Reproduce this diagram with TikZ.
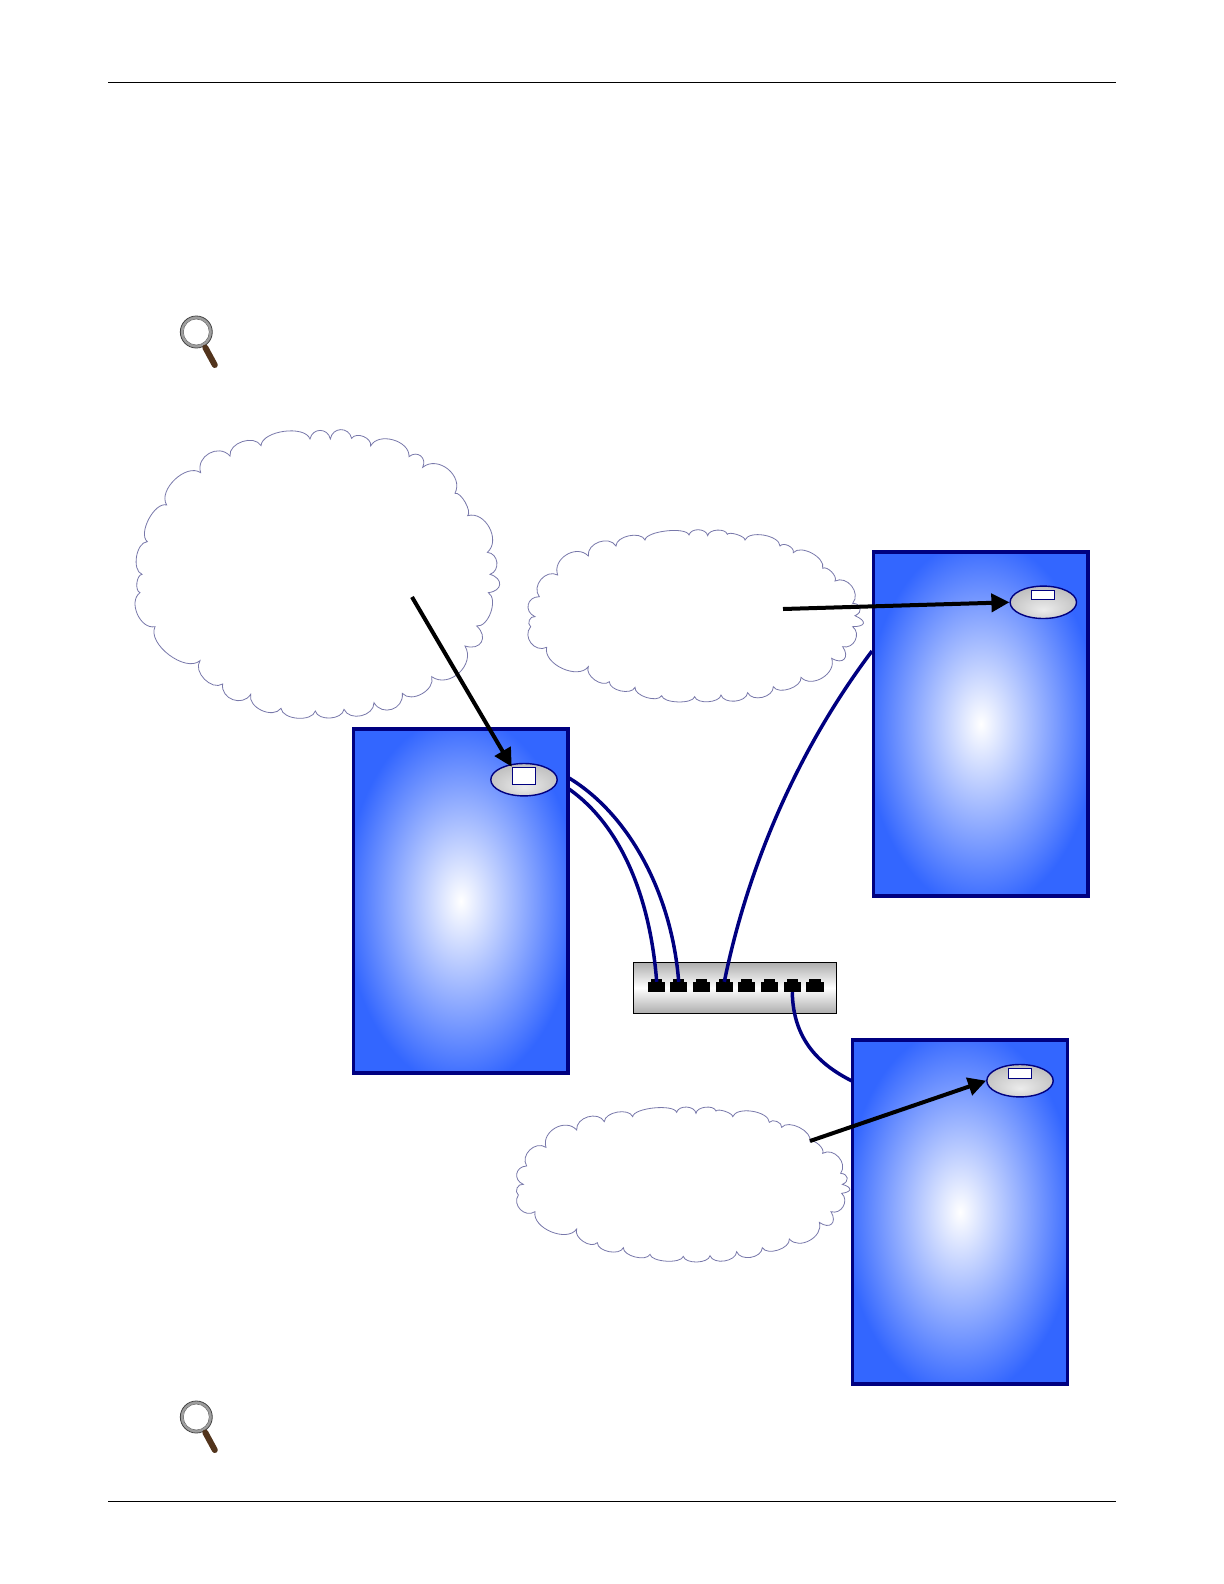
\documentclass[tikz,border=0pt]{standalone}
\usepackage{xcolor}
\usepackage{tikz}
\usetikzlibrary{shapes.geometric, arrows.meta, positioning}
\definecolor{boxnavy}{RGB}{0,0,128}
\definecolor{boxblue}{RGB}{51,102,255}
\definecolor{cloudedge}{RGB}{120,120,170}
\definecolor{nicedge}{RGB}{180,180,180}
\definecolor{niccore}{RGB}{236,236,236}
\definecolor{lenshandle}{RGB}{82,52,28}
\pgfdeclareradialshading{blueglow}{\pgfpoint{0bp}{0bp}}{color(0bp)=(white); color(27bp)=(boxblue); color(50bp)=(boxblue)}
\pgfdeclareradialshading{nicglow}{\pgfpoint{0bp}{-12bp}}{color(0bp)=(niccore); color(36bp)=(nicedge); color(50bp)=(nicedge)}
\tikzset{
  serverbox/.style={rectangle, draw=boxnavy, line width=1.8bp, shading=blueglow, minimum width=107.4bp, minimum height=171.8bp, inner sep=0pt},
  nicoval/.style={ellipse, draw=boxnavy, line width=0.7bp, shading=nicglow, minimum width=33.2bp, minimum height=16.2bp, inner sep=0pt},
  nicslot/.style={rectangle, draw=boxnavy, line width=0.6bp, fill=white, minimum width=11.7bp, inner sep=0pt},
  switchbox/.style={rectangle, draw=black, line width=0.6bp, top color=black!32, bottom color=black!32, middle color=white, minimum width=101.7bp, minimum height=25.5bp, inner sep=0pt},
  portbody/.style={rectangle, fill=black, minimum width=8.6bp, minimum height=5.2bp, inner sep=0pt, outer sep=0pt},
  porttab/.style={rectangle, fill=black, minimum width=5.6bp, minimum height=1.4bp, inner sep=0pt, outer sep=0pt},
  link/.style={draw=boxnavy, line width=1.75bp},
  pointer/.style={-{Triangle[length=9bp,width=9bp]}, line width=2bp, black},
  cloudline/.style={draw=cloudedge, line width=0.4bp, fill=white},
  pagerule/.style={line width=0.5bp, black},
  lens/.pic={
    \draw[line width=1.3bp, black!38] (0,0) circle (14.5);
    \draw[line width=0.4bp, black!75] (0,0) circle (16);
    \draw[line width=0.3bp, black!60] (0,0) circle (13);
    \draw[line width=3bp, lenshandle, line cap=round] (9,15.5) -- (18.5,33);
  },
}
\begin{document}
\begin{tikzpicture}[x=0.5bp, y=-0.5bp]
  \useasboundingbox (0,0) rectangle (1224,1584);

  % Page rules
  \draw[pagerule] (108,82) -- (1116,82);
  \draw[pagerule] (108,1501) -- (1116,1501);

  % Magnifiers
  \pic at (196.3,332) {lens};
  \pic at (196.3,1417) {lens};

  % Servers
  \node[serverbox] (serverA) at (460.8,901) {};
  \node[serverbox] (serverB) at (980.8,724) {};
  \node[serverbox] (serverC) at (960,1212) {};

  % Network cards
  \node[nicoval] (nicA) at (524,779.7) {};
  \node[nicslot, minimum height=8.5bp] (slotA) at (524,775.8) {};
  \node[nicoval] (nicB) at (1043.3,602.3) {};
  \node[nicslot, minimum height=4.6bp] (slotB) at (1043,594.8) {};
  \node[nicoval] (nicC) at (1020,1080.7) {};
  \node[nicslot, minimum height=5bp] (slotC) at (1020,1073.3) {};

  % Switch and ports
  \node[switchbox] (switch) at (735,987.8) {};
  \foreach \i/\x in {1/656.7, 2/678.7, 3/701.3, 4/724.3, 5/746.7, 6/769.7, 7/792.3, 8/815} {
    \node[portbody] (port\i) at (\x,987) {};
    \node[porttab, above=0pt of port\i] (tab\i) {};
  }

  % Cable ends on the servers
  \coordinate (cableAup) at (569,778);
  \coordinate (cableAlow) at (569,789);
  \coordinate (cableB) at (872,651);
  \coordinate (cableC) at (852,1081);

  % Cables
  \draw[link] (cableAup) .. controls (630,815) and (672,895) .. (tab2.south);
  \draw[link] (cableAlow) .. controls (620,825) and (650,895) .. (tab1.south);
  \draw[link] (tab4.south) .. controls (745,880) and (790,760) .. (cableB);
  \draw[link] (port7.south) .. controls (793,1040) and (820,1065) .. (cableC);

  % Clouds
  \begin{scope}[shift={(120,420)}, x=0.16667bp, y=-0.16667bp]
    \draw[cloudline] (423,77) \foreach[evaluate=\lo as \loo using 0.87*\lo] \px/\py/\lo in {570/57/0.9,631/57/1.7,695/55/1.7,752/78/1.2,867/110/1.2,908/142/1.8,1005/220/1.4,1043/287/0.7,1102/397/1.3,1110/463/1.5,1105/518/2.3,1070/618/1.0,1035/678/2.1,935/770/1.4,847/820/1.2,762/848/1.6,672/868/1.3,586/873/1.1,483/865/1.0,392/823/1.2,308/792/1.5,240/722/1.2,105/620/1.0,60/518/1.2,66/463/0.9,82/365/1.0,140/255/0.9,242/158/1.1,330/108/1.5,423/77/1.2} { to[bend left=78, looseness=\loo] (\px,\py) } -- cycle;
  \end{scope}
  \begin{scope}[shift={(520,520)}, x=0.16667bp, y=-0.16667bp]
    \draw[cloudline] (375,60) \foreach[evaluate=\lo as \loo using 0.87*\lo] \px/\py/\lo in {507/45/0.6,563/47/1.2,622/43/1.0,675/60/0.6,780/78/0.9,820/98/1.1,908/145/1.0,945/183/0.9,998/250/1.4,1005/287/2.1,998/320/3.5,968/380/1.5,935/415/2.4,843/472/1.3,760/500/1.0,683/518/1.2,603/525/1.1,524/530/0.9,425/527/0.7,345/502/0.9,268/485/1.0,205/440/1.1,80/382/1.1,32/320/1.5,45/290/1.4,58/230/1.8,113/165/1.4,205/108/1.4,288/78/1.3,375/60/1.0} { to[bend left=78, looseness=\loo] (\px,\py) } -- cycle;
  \end{scope}
  \begin{scope}[shift={(510,1095)}, x=0.16667bp, y=-0.16667bp]
    \draw[cloudline] (368,65) \foreach[evaluate=\lo as \loo using 0.87*\lo] \px/\py/\lo in {500/52/0.6,558/55/1.2,618/48/1.0,668/65/0.6,778/82/0.9,815/97/1.1,900/140/1.0,938/175/0.9,992/235/1.4,997/268/2.1,995/295/3.5,963/350/1.5,928/382/2.4,838/432/1.3,757/458/1.0,680/470/1.2,600/482/1.1,520/484/0.9,420/478/0.7,340/458/0.9,262/443/1.0,200/402/1.1,75/350/1.1,25/300/1.5,40/268/1.4,50/213/1.8,108/157/1.4,200/105/1.4,283/80/1.3,368/65/1.0} { to[bend left=78, looseness=\loo] (\px,\py) } -- cycle;
  \end{scope}

  % Pointers out of the clouds
  \coordinate (noteA) at (412,597);
  \coordinate (noteB) at (783,609);
  \coordinate (noteC) at (810,1141);
  \draw[pointer] (noteA) -- (slotA.north west);
  \draw[pointer] (noteB) -- (nicB.west);
  \draw[pointer] (noteC) -- (nicC.west);
\end{tikzpicture}
\end{document}
